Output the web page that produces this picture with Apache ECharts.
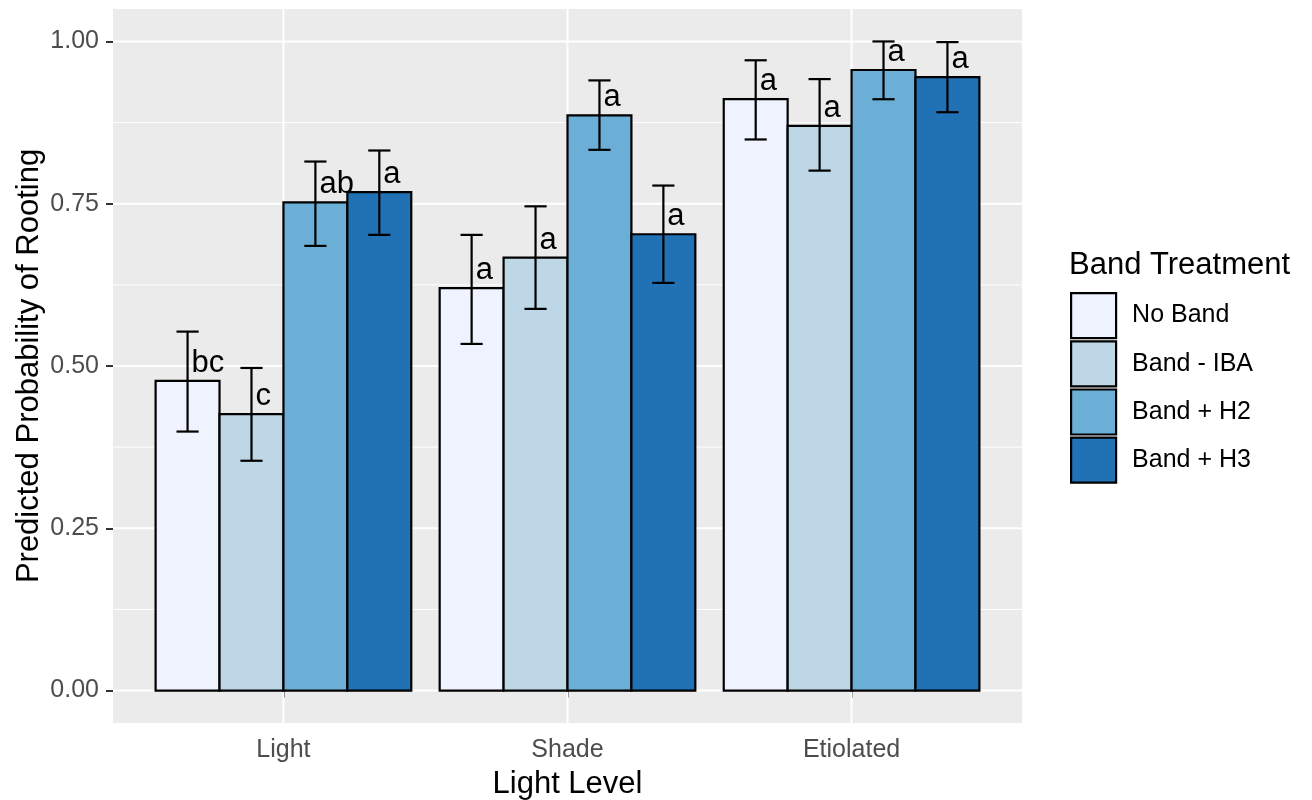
<!DOCTYPE html>
<html>
<head>
<meta charset="utf-8">
<script src="https://cdn.jsdelivr.net/npm/echarts@6/dist/echarts.min.js"></script>
<style>
html,body{margin:0;padding:0;background:#fff;}
#chart{width:1312px;height:800px;}
</style>
</head>
<body>
<div id="chart"></div>
<script>
// ---- data ----
const categories = ['Light', 'Shade', 'Etiolated'];
const treatments = ['No Band', 'Band - IBA', 'Band + H2', 'Band + H3'];
const colors = ['#EFF3FF', '#BDD7E7', '#6BAED6', '#2171B5'];

const noBand     = [0.477, 0.620, 0.911];
const noBandLo   = [0.399, 0.534, 0.849];
const noBandHi   = [0.553, 0.702, 0.971];
const noBandLet  = ['bc', 'a', 'a'];

const bandIBA    = [0.426, 0.667, 0.870];
const bandIBALo  = [0.354, 0.588, 0.801];
const bandIBAHi  = [0.497, 0.746, 0.942];
const bandIBALet = ['c', 'a', 'a'];

const bandH2     = [0.752, 0.886, 0.956];
const bandH2Lo   = [0.685, 0.833, 0.911];
const bandH2Hi   = [0.815, 0.940, 1.000];
const bandH2Let  = ['ab', 'a', 'a'];

const bandH3     = [0.768, 0.703, 0.945];
const bandH3Lo   = [0.702, 0.628, 0.891];
const bandH3Hi   = [0.832, 0.778, 0.999];
const bandH3Let  = ['a', 'a', 'a'];

const yTicks = [0, 0.25, 0.5, 0.75, 1.0];
const yMinor = [0.125, 0.375, 0.625, 0.875];
const xTicks = [1, 2, 3];

// ---- build ----
const means = [noBand, bandIBA, bandH2, bandH3];
const los = [noBandLo, bandIBALo, bandH2Lo, bandH3Lo];
const his = [noBandHi, bandIBAHi, bandH2Hi, bandH3Hi];
const lets = [noBandLet, bandIBALet, bandH2Let, bandH3Let];

const FONT = 'Liberation Sans, Arial, Helvetica, sans-serif';
const DODGE = 0.225;   // 0.9 / 4
const CAP = 0.039;

function offset(t) { return (t - 1.5) * DODGE; }

const barSeries = treatments.map((name, t) => ({
  name: name,
  type: 'custom',
  z: 3,
  itemStyle: { color: colors[t], borderColor: '#000', borderWidth: 2 },
  data: categories.map((c, k) => [k + 1, means[t][k]]),
  renderItem: function (params, api) {
    const xc = api.value(0) + offset(t);
    const p0 = api.coord([xc - DODGE / 2, api.value(1)]);
    const p1 = api.coord([xc + DODGE / 2, 0]);
    return {
      type: 'rect',
      shape: { x: p0[0], y: p0[1], width: p1[0] - p0[0], height: p1[1] - p0[1] },
      style: { fill: colors[t], stroke: '#000', lineWidth: 2.2 }
    };
  }
}));

const annRows = [];
treatments.forEach((name, t) => {
  categories.forEach((c, k) => {
    annRows.push([k + 1, t, means[t][k], los[t][k], his[t][k]]);
  });
});

const annSeries = {
  name: 'annotations',
  type: 'custom',
  z: 5,
  silent: true,
  data: annRows,
  renderItem: function (params, api) {
    const k = api.value(0), t = api.value(1);
    const xc = k + offset(t);
    const top = api.coord([xc, api.value(4)]);
    const bot = api.coord([xc, api.value(3)]);
    const capL = api.coord([xc - CAP, 0])[0];
    const capR = api.coord([xc + CAP, 0])[0];
    const barTop = api.coord([xc, api.value(2)]);
    const ls = { stroke: '#000', lineWidth: 2.2 };
    return {
      type: 'group',
      children: [
        { type: 'line', shape: { x1: top[0], y1: top[1], x2: bot[0], y2: bot[1] }, style: ls },
        { type: 'line', shape: { x1: capL, y1: top[1], x2: capR, y2: top[1] }, style: ls },
        { type: 'line', shape: { x1: capL, y1: bot[1], x2: capR, y2: bot[1] }, style: ls },
        { type: 'text', x: barTop[0] + 4, y: barTop[1] - 2,
          style: { text: lets[t][k - 1], fill: '#000', fontSize: 31, fontFamily: FONT,
                   align: 'left', verticalAlign: 'bottom' } }
      ]
    };
  }
};

const gridSeries = {
  name: 'gridlines',
  type: 'custom',
  z: 1,
  silent: true,
  data: [[0]],
  renderItem: function (params, api) {
    const children = [];
    yMinor.forEach(v => {
      const a = api.coord([0.4, v]), b = api.coord([3.6, v]);
      children.push({ type: 'line', shape: { x1: a[0], y1: a[1], x2: b[0], y2: b[1] },
                      style: { stroke: '#FFFFFF', lineWidth: 1 } });
    });
    yTicks.forEach(v => {
      const a = api.coord([0.4, v]), b = api.coord([3.6, v]);
      children.push({ type: 'line', shape: { x1: a[0], y1: a[1], x2: b[0], y2: b[1] },
                      style: { stroke: '#FFFFFF', lineWidth: 2 } });
    });
    xTicks.forEach(v => {
      const a = api.coord([v, -0.05]), b = api.coord([v, 1.05]);
      children.push({ type: 'line', shape: { x1: a[0], y1: a[1], x2: b[0], y2: b[1] },
                      style: { stroke: '#FFFFFF', lineWidth: 2 } });
    });
    return { type: 'group', children: children };
  }
};

const chart = echarts.init(document.getElementById('chart'), null, { renderer: 'canvas' });
chart.setOption({
  animation: false,
  backgroundColor: '#FFFFFF',
  grid: { left: 113, top: 9, width: 909, height: 714, show: true,
          backgroundColor: '#EBEBEB', borderWidth: 0, containLabel: false,
          outerBoundsMode: 'none' },
  xAxis: {
    type: 'value', min: 0.4, max: 3.6,
    name: 'Light Level', nameLocation: 'middle', nameGap: 46, nameMoveOverlap: false,
    nameTextStyle: { color: '#000', fontSize: 31, fontFamily: FONT },
    axisLine: { show: false },
    axisTick: { show: true, customValues: xTicks, length: 7, lineStyle: { color: '#333333', width: 2 } },
    axisLabel: { customValues: xTicks, formatter: v => categories[Math.round(v) - 1] || '',
                 color: '#4D4D4D', fontSize: 25, fontFamily: FONT, margin: 15 },
    splitLine: { show: false }
  },
  yAxis: {
    type: 'value', min: -0.05, max: 1.05,
    name: 'Predicted Probability of Rooting', nameLocation: 'middle', nameGap: 68,
    nameRotate: 90, nameMoveOverlap: false,
    nameTextStyle: { color: '#000', fontSize: 31, fontFamily: FONT },
    axisLine: { show: false },
    axisTick: { show: true, customValues: yTicks, length: 7, lineStyle: { color: '#333333', width: 2 } },
    axisLabel: { customValues: yTicks, formatter: v => v.toFixed(2),
                 color: '#4D4D4D', fontSize: 25, fontFamily: FONT, margin: 14 },
    splitLine: { show: false }
  },
  legend: {
    orient: 'vertical', left: 1065, top: 287,
    itemWidth: 45, itemHeight: 45, itemGap: 1,
    selectedMode: false,
    textStyle: { color: '#000', fontSize: 25, fontFamily: FONT, padding: [0, 0, 0, 11] },
    data: treatments.map((n, t) => ({ name: n, icon: 'rect',
      itemStyle: { color: colors[t], borderColor: '#000', borderWidth: 2.2 } }))
  },
  graphic: [{
    type: 'text', left: 1069, top: 250,
    style: { text: 'Band Treatment', fill: '#000', fontSize: 31, fontFamily: FONT }
  }],
  series: [gridSeries].concat(barSeries).concat([annSeries])
});
</script>
</body>
</html>
